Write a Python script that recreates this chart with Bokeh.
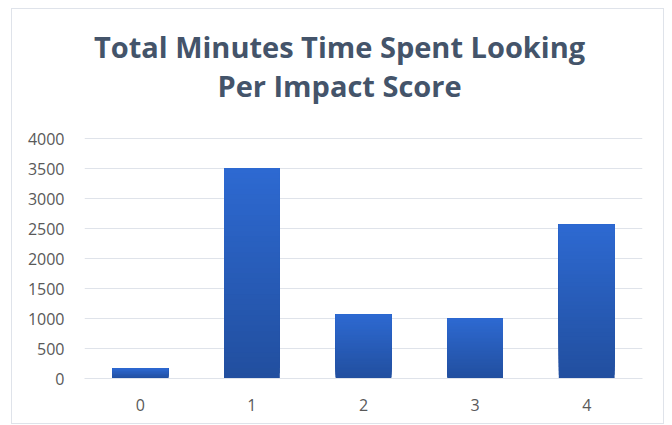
from bokeh.plotting import figure
from bokeh.models import FactorRange, Range1d, ColumnDataSource
from bokeh.core.properties import value
from bokeh.embed import file_html
from bokeh.resources import INLINE

categories = ["0", "1", "2", "3", "4"]
values = [165, 3510, 1070, 1000, 2565]
y_ticks = [0, 500, 1000, 1500, 2000, 2500, 3000, 3500, 4000]

title_lines = ["Total Minutes Time Spent Looking", "Per Impact Score"]

top_rgb = (46, 106, 210)
bot_rgb = (34, 79, 159)
N = 40

xs, bottoms, tops, colors = [], [], [], []
for c, v in zip(categories, values):
    for k in range(N):
        f = (k + 0.5) / N
        r = int(bot_rgb[0] + (top_rgb[0] - bot_rgb[0]) * f)
        g = int(bot_rgb[1] + (top_rgb[1] - bot_rgb[1]) * f)
        b = int(bot_rgb[2] + (top_rgb[2] - bot_rgb[2]) * f)
        xs.append(c)
        bottoms.append(v * k / N)
        tops.append(v)
        colors.append("#%02x%02x%02x" % (r, g, b))

src = ColumnDataSource(dict(x=xs, bottom=bottoms, top=tops, color=colors))

# frame spans the full height above the axis; the title sits inside it, above the top tick
p = figure(width=653, height=416, output_backend="svg", toolbar_location=None,
           x_range=FactorRange(*categories, range_padding=0),
           y_range=Range1d(0, 6150),
           min_border_left=72, min_border_right=23, min_border_bottom=47, min_border_top=0)

p.vbar(x="x", bottom="bottom", top="top", width=0.5, source=src,
       fill_color="color", line_color=None)

TF = "Open Sans"
title_src = ColumnDataSource(dict(x=[2.285, 2.285], y=[5534, 4884], text=title_lines))
p.text(x="x", y="y", text="text", source=title_src, text_align="center",
       text_baseline="alphabetic", text_font=value(TF), text_font_size=value("29px"),
       text_font_style="bold", text_color="#44546a")

p.outline_line_color = None
p.background_fill_color = "white"
p.border_fill_color = "white"

p.xgrid.grid_line_color = None
p.ygrid.grid_line_color = "#dfe3ea"
p.ygrid.grid_line_width = 1
p.yaxis.ticker = y_ticks
p.yaxis.axis_line_color = None
p.yaxis.major_tick_line_color = None
p.yaxis.minor_tick_line_color = None
p.yaxis.major_label_text_font = TF
p.yaxis.major_label_text_font_size = "16px"
p.yaxis.major_label_text_color = "#595959"
p.yaxis.major_label_standoff = 14

p.xaxis.axis_line_color = "#dfe3ea"
p.xaxis.major_tick_line_color = None
p.xaxis.minor_tick_line_color = None
p.xaxis.major_label_text_font = TF
p.xaxis.major_label_text_font_size = "16px"
p.xaxis.major_label_text_color = "#595959"
p.xaxis.major_label_standoff = 14

p.styles = {"border": "1px solid #dfe3ea", "margin-left": "11px", "margin-top": "8px"}

open("out.html", "w").write(file_html(p, INLINE))
